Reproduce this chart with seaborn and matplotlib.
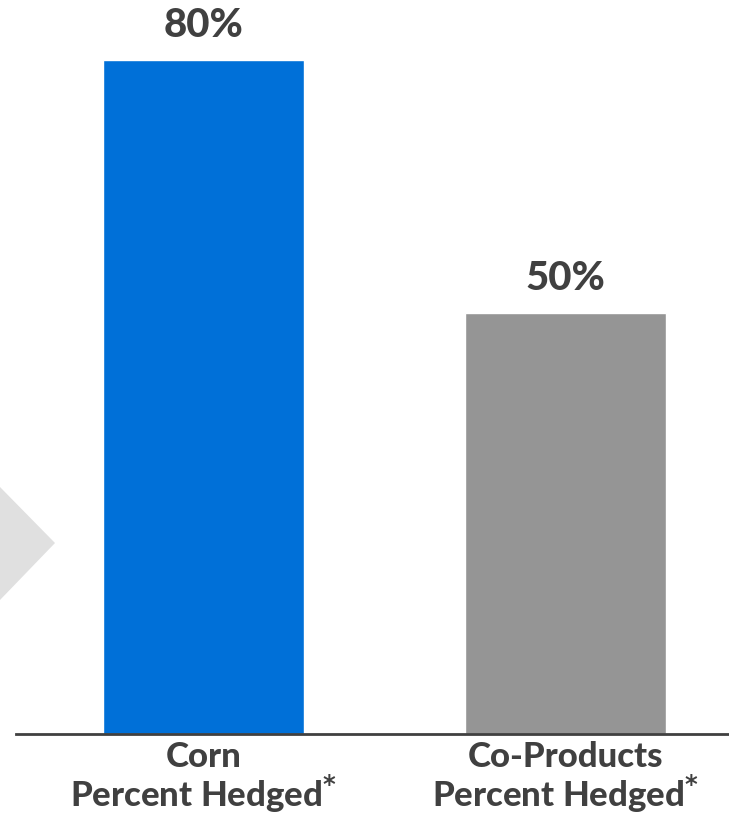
import matplotlib
matplotlib.use("Agg")
import matplotlib.pyplot as plt
import seaborn as sns
import pandas as pd
from matplotlib.patches import Polygon

categories = ["Corn\nPercent Hedged$^{\\mathbf{*}}$", "Co-Products\nPercent Hedged$^{\\mathbf{*}}$"]
values = [80, 50]
value_labels = ["80%", "50%"]
colors = ["#0070D8", "#959595"]

sns.set_theme(style="white")
plt.rcParams["font.family"] = ["Lato", "DejaVu Sans"]

fig = plt.figure(figsize=(7.29, 8.36), dpi=100)
# decorative chevron on the left
fig.patches.append(Polygon([(0, 1 - 487/836), (55/729, 1 - 543/836), (0, 1 - 600/836)],
                           closed=True, transform=fig.transFigure, facecolor="#e0e0e0",
                           edgecolor="none", zorder=0))
ax = fig.add_axes([16/729, 102/836, 713/729, 734/836])
ax.patch.set_alpha(0)

df = pd.DataFrame({"cat": categories, "val": values})
sns.barplot(data=df, x="cat", y="val", hue="cat", palette=colors, legend=False,
            width=0.555, ax=ax, saturation=1)

for i, (v, lab) in enumerate(zip(values, value_labels)):
    ax.text(i, v + 1.9, lab, ha="center", va="bottom", fontsize=29, fontweight="black",
            color="#404040")

ax.set_xlim(-0.517, 1.450)
ax.set_ylim(0, 87.1)
for s in ["top", "right", "left"]:
    ax.spines[s].set_visible(False)
ax.spines["bottom"].set_color("#404040")
ax.spines["bottom"].set_linewidth(2)
ax.set_yticks([])
ax.set_xlabel("")
ax.set_ylabel("")
ax.tick_params(axis="x", length=0, pad=5)
for t in ax.get_xticklabels():
    t.set_fontsize(25)
    t.set_fontweight("black")
    t.set_color("#404040")
    t.set_linespacing(1.0)

fig.savefig("out.png", dpi=100)
